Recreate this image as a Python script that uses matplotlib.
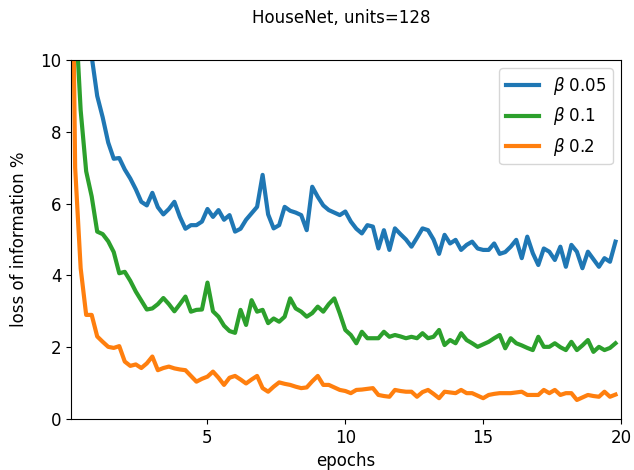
import numpy as np
import matplotlib as mpl
mpl.use('Agg')
import matplotlib.pyplot as plt

plt.rcParams['font.size'] = 12

# one value every 0.2 epochs
epochs = np.arange(100) * 0.2

beta_005 = [20, 15, 12.8, 11.2, 10.1, 9.0, 8.4, 7.7, 7.25, 7.27,
            6.95, 6.7, 6.4, 6.05, 5.95, 6.3, 5.9, 5.7, 5.85, 6.05,
            5.63, 5.3, 5.4, 5.4, 5.5, 5.85, 5.63, 5.82, 5.55, 5.68,
            5.22, 5.3, 5.55, 5.73, 5.91, 6.8, 5.7, 5.31, 5.4, 5.91,
            5.8, 5.75, 5.68, 5.26, 6.47, 6.19, 5.95, 5.82, 5.75, 5.68,
            5.78, 5.5, 5.3, 5.17, 5.4, 5.36, 4.75, 5.26, 4.71, 5.31,
            5.15, 5.0, 4.8, 5.05, 5.31, 5.26, 5.0, 4.6, 5.13, 4.89,
            4.99, 4.71, 4.85, 4.94, 4.75, 4.71, 4.71, 4.89, 4.6, 4.65,
            4.8, 4.99, 4.48, 5.08, 4.62, 4.29, 4.75, 4.66, 4.43, 4.8,
            4.24, 4.85, 4.66, 4.2, 4.66, 4.45, 4.24, 4.48, 4.38, 4.94]

beta_01 = [20, 11.5, 8.6, 6.9, 6.2, 5.22, 5.15, 4.95, 4.65, 4.06,
           4.1, 3.85, 3.55, 3.3, 3.05, 3.08, 3.2, 3.37, 3.2, 3.0,
           3.2, 3.41, 2.99, 3.04, 3.05, 3.8, 3.0, 2.85, 2.6, 2.45,
           2.4, 3.04, 2.62, 3.31, 2.99, 3.04, 2.67, 2.8, 2.71, 2.85,
           3.36, 3.08, 2.99, 2.85, 2.95, 3.13, 2.99, 3.2, 3.36, 2.94,
           2.48, 2.34, 2.11, 2.43, 2.25, 2.25, 2.25, 2.43, 2.29, 2.34,
           2.3, 2.25, 2.29, 2.25, 2.39, 2.25, 2.29, 2.48, 2.06, 2.2,
           2.11, 2.39, 2.2, 2.11, 2.01, 2.08, 2.15, 2.25, 2.34, 1.97,
           2.25, 2.11, 2.05, 1.98, 1.92, 2.29, 2.01, 2.01, 2.11, 2.0,
           1.92, 2.15, 1.92, 2.05, 2.2, 1.87, 2.01, 1.92, 1.98, 2.11]

beta_02 = [20, 7.0, 4.2, 2.9, 2.9, 2.3, 2.15, 2.01, 1.98, 2.03,
           1.6, 1.48, 1.52, 1.42, 1.55, 1.74, 1.36, 1.42, 1.46, 1.41,
           1.38, 1.36, 1.2, 1.04, 1.12, 1.18, 1.32, 1.15, 0.95, 1.15,
           1.2, 1.1, 0.99, 1.1, 1.2, 0.86, 0.76, 0.9, 1.02, 0.98,
           0.95, 0.9, 0.86, 0.88, 1.05, 1.2, 0.95, 0.95, 0.88, 0.81,
           0.78, 0.72, 0.81, 0.82, 0.84, 0.86, 0.67, 0.64, 0.62, 0.81,
           0.78, 0.76, 0.76, 0.62, 0.75, 0.81, 0.7, 0.58, 0.76, 0.74,
           0.72, 0.81, 0.72, 0.72, 0.65, 0.58, 0.67, 0.7, 0.72, 0.72,
           0.72, 0.74, 0.76, 0.67, 0.67, 0.67, 0.81, 0.72, 0.81, 0.67,
           0.72, 0.72, 0.53, 0.6, 0.67, 0.64, 0.62, 0.76, 0.62, 0.68]

fig = plt.figure(figsize=(6.34, 4.70), dpi=100)
ax = fig.add_axes([0.112, 0.1085, 0.8675, 0.7638])

ax.plot(epochs, beta_005, color='#1f77b4', lw=3, label=r'$\beta$ 0.05')
ax.plot(epochs, beta_01, color='#2ca02c', lw=3, label=r'$\beta$ 0.1')
ax.plot(epochs, beta_02, color='#ff7f0e', lw=3, label=r'$\beta$ 0.2')

ax.set_xlim(0.05, 20)
ax.set_ylim(0, 10)
ax.set_xticks([5, 10, 15, 20])
ax.set_yticks([0, 2, 4, 6, 8, 10])
ax.set_xlabel('epochs')
ax.set_ylabel('loss of information %', labelpad=9)
ax.legend(loc='upper right')

fig.text(0.539, 0.962, 'HouseNet, units=128', ha='center', va='center')

fig.savefig('out.png', dpi=100)
plt.close(fig)
